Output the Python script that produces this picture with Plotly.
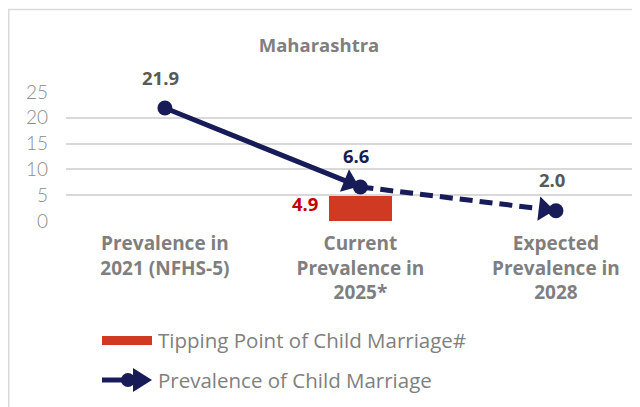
import plotly.graph_objects as go

categories = ["Prevalence in<br>2021 (NFHS-5)", "Current<br>Prevalence in<br>2025*", "Expected<br>Prevalence in<br>2028"]
prevalence = [21.9, 6.6, 2.0]
tipping_point = [None, 4.9, None]
y_ticks = [0, 5, 10, 15, 20, 25]
title_text = "Maharashtra"
legend_bar = "Tipping Point of Child Marriage#"
legend_line = "Prevalence of Child Marriage"

NAVY = "#171c58"
RED = "#d03a22"
GRAY = "#7f7f7f"
FONT = "Open Sans"
TFONT = "Lato"

OFF = 8  # page body margin
W, H = 640 - OFF, 407 - OFF
L, R, T, B = 58, 0, 84, 186
PW, PH = W - L - R, H - T - B


def px(x):  # reference-image x pixel -> paper
    return (x - OFF - L) / PW


def py(y):  # reference-image y pixel -> paper
    return (T + PH - (y - OFF)) / PH


fig = go.Figure()

fig.add_trace(go.Bar(x=categories, y=tipping_point, width=0.32,
                     marker=dict(color=RED, line=dict(width=0)), showlegend=False))

fig.add_trace(go.Scatter(x=categories[:2], y=prevalence[:2], mode="lines",
                         line=dict(color=NAVY, width=5), showlegend=False))
fig.add_trace(go.Scatter(x=categories[1:], y=prevalence[1:], mode="lines",
                         line=dict(color=NAVY, width=5, dash="13px,7px"), showlegend=False))
fig.add_trace(go.Scatter(x=categories, y=prevalence, mode="markers",
                         marker=dict(symbol="triangle-up", angleref="previous", size=[0, 21, 21],
                                     standoff=12, color=NAVY, opacity=1, line=dict(width=0)),
                         showlegend=False))
fig.add_trace(go.Scatter(x=categories, y=prevalence, mode="markers",
                         marker=dict(symbol="circle", size=15, color=NAVY, opacity=1,
                                     line=dict(width=0)),
                         showlegend=False))

label_colors = ["#595959", NAVY, "#595959"]
annotations = []
for c, v, col in zip(categories, prevalence, label_colors):
    annotations.append(dict(x=c, y=v, xref="x", yref="y", text=f"{v:.1f}", showarrow=False,
                            yshift=31, xshift=-4,
                            font=dict(family=FONT, size=18.5, color=col, weight="bold")))
for c, v in zip(categories, tipping_point):
    if v is not None:
        annotations.append(dict(x=c, y=v, xref="x", yref="y", text=f"{v:.1f}", showarrow=False,
                                xshift=-55, yshift=-8,
                                font=dict(family=FONT, size=18.5, color="#c00000", weight="bold")))

# legend (drawn manually)
annotations.append(dict(x=px(156), y=py(340), xref="paper", yref="paper", text=legend_bar,
                        showarrow=False, xanchor="left", yanchor="middle",
                        font=dict(family=FONT, size=20.5, color="#808080")))
annotations.append(dict(x=px(156), y=py(380), xref="paper", yref="paper", text=legend_line,
                        showarrow=False, xanchor="left", yanchor="middle",
                        font=dict(family=FONT, size=20.5, color="#808080")))

shapes = [
    dict(type="rect", xref="paper", yref="paper", x0=px(8.75), x1=px(720), y0=py(520), y1=py(9.5),
         line=dict(color="#d9d9d9", width=1.5), layer="below"),
    dict(type="rect", xref="paper", yref="paper", x0=px(102), x1=px(152), y0=py(345), y1=py(336),
         fillcolor=RED, line=dict(width=0)),
    dict(type="line", xref="paper", yref="paper", x0=px(102), x1=px(128), y0=py(380), y1=py(380),
         line=dict(color=NAVY, width=5)),
    dict(type="circle", xref="paper", yref="paper", x0=px(121), x1=px(135), y0=py(387), y1=py(373),
         fillcolor=NAVY, line=dict(width=0)),
    dict(type="path", xref="paper", yref="paper",
         path=f"M{px(133)},{py(368)} L{px(152)},{py(380)} L{px(133)},{py(392)} Z",
         fillcolor=NAVY, line=dict(width=0)),
]

fig.update_layout(
    width=W, height=H,
    margin=dict(l=L, r=R, t=T, b=B),
    paper_bgcolor="white", plot_bgcolor="white",
    title=dict(text=title_text, x=(319 - OFF) / W, y=1 - (46 - OFF) / H, xref="container",
               yref="container", xanchor="center", yanchor="middle",
               font=dict(family=FONT, size=18.5, color=GRAY, weight="bold")),
    xaxis=dict(type="category", range=[-0.506, 2.43], showgrid=False, zeroline=False,
               showline=False, ticks="", ticklabelstandoff=9,
               tickfont=dict(family=FONT, size=19, color=GRAY, weight="bold")),
    yaxis=dict(range=[0, 25], tickvals=y_ticks, showgrid=True, gridcolor="#d9d9d9", gridwidth=1.5,
               zeroline=False, showline=False, ticks="", ticklabelstandoff=17,
               tickfont=dict(family=TFONT, size=19, color="#8c8c8c", weight=300)),
    shapes=shapes,
    annotations=annotations,
    showlegend=False,
    bargap=0,
)

fig.write_html("out.html")
